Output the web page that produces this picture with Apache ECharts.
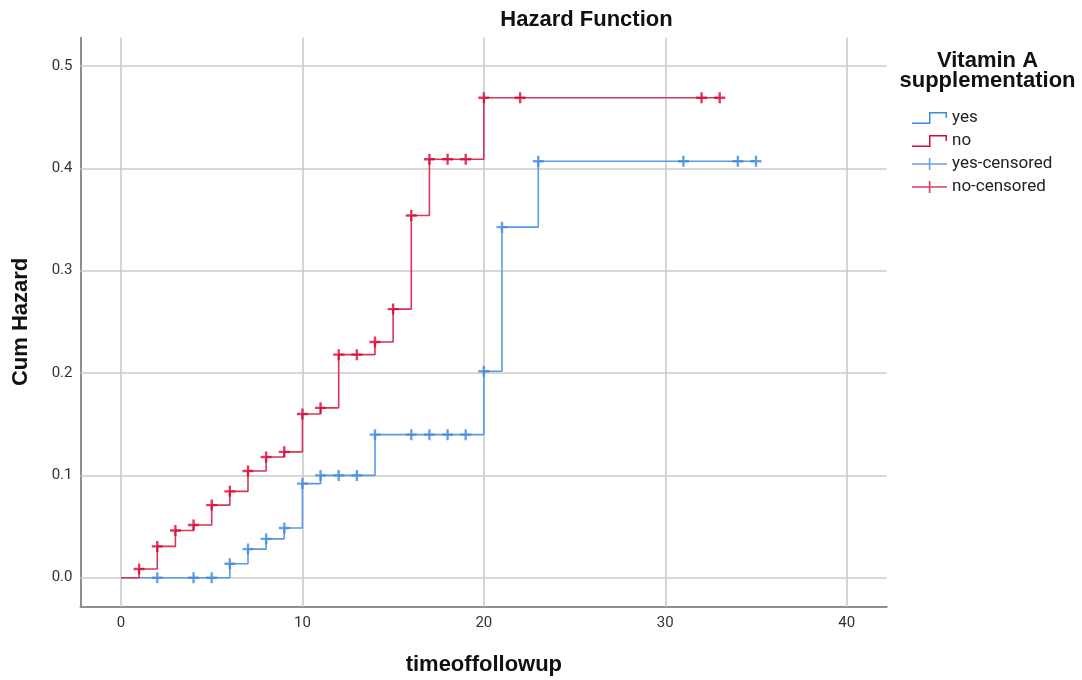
<!DOCTYPE html>
<html><head><meta charset="utf-8">
<script src="https://cdn.jsdelivr.net/npm/echarts@6/dist/echarts.min.js"></script>
<style>html,body{margin:0;padding:0;background:#fff}#c{width:1082px;height:680px}</style>
</head><body><div id="c"></div>
<script>
// ---- data ----
const X_TICKS = [0, 10, 20, 30, 40];
const Y_TICKS = [0, 0.1, 0.2, 0.3, 0.4, 0.5];
const SERIES_NAMES = ['yes', 'no', 'yes-censored', 'no-censored'];
const LEGEND_TITLE = 'Vitamin A\nsupplementation';
const YES_T = [0, 6, 7, 8, 9, 10, 11, 14, 20, 21, 23, 35];
const YES_H = [0, 0.0137, 0.028, 0.038, 0.0486, 0.092, 0.100, 0.1398, 0.2017, 0.3426, 0.407, 0.407];
const NO_T = [0, 1, 2, 3, 4, 5, 6, 7, 8, 9, 10, 11, 12, 14, 15, 16, 17, 20, 33];
const NO_H = [0, 0.0085, 0.0306, 0.0462, 0.0515, 0.071, 0.0844, 0.1043, 0.118, 0.123, 0.160, 0.166, 0.218, 0.2304, 0.2625, 0.354, 0.409, 0.469, 0.469];
const YES_CENS_T = [2, 4, 5, 6, 7, 8, 9, 10, 11, 12, 13, 14, 16, 17, 18, 19, 20, 21, 23, 31, 34, 35];
const YES_CENS_H = [0, 0, 0, 0.0137, 0.028, 0.038, 0.0486, 0.092, 0.100, 0.100, 0.100, 0.1398, 0.1398, 0.1398, 0.1398, 0.1398, 0.2017, 0.3426, 0.407, 0.407, 0.407, 0.407];
const NO_CENS_T = [1, 2, 3, 4, 5, 6, 7, 8, 9, 10, 11, 12, 13, 14, 15, 16, 17, 18, 19, 20, 22, 32, 33];
const NO_CENS_H = [0.0085, 0.0306, 0.0462, 0.0515, 0.071, 0.0844, 0.1043, 0.118, 0.123, 0.160, 0.166, 0.218, 0.218, 0.2304, 0.2625, 0.354, 0.409, 0.409, 0.409, 0.469, 0.469, 0.469, 0.469];

// ---- layout / style ----
const PLOT = { left: 80.5, top: 37.7, right: 886.7, bottom: 606.7 };
const XMIN = -2.232, XMAX = 42.205, YMIN = -0.0283, YMAX = 0.5277;
const W = PLOT.right - PLOT.left, H = PLOT.bottom - PLOT.top;
const x0 = X_TICKS[0], x1 = X_TICKS[X_TICKS.length - 1];
const y0 = Y_TICKS[0], y1 = Y_TICKS[Y_TICKS.length - 1];
const L1 = PLOT.left + (x0 - XMIN) / (XMAX - XMIN) * W;
const R1 = PLOT.left + (x1 - XMIN) / (XMAX - XMIN) * W;
const T1 = PLOT.top + (YMAX - y1) / (YMAX - YMIN) * H;
const B1 = PLOT.top + (YMAX - y0) / (YMAX - YMIN) * H;

const BLUE = '#4089e0', BLUE_LINE = '#5b9be6';
const RED = '#d20a38', RED_LINE = '#d9345a';
const TITLE_FONT = "'Liberation Sans', Arial, sans-serif";
const LABEL_FONT = "Roboto, 'Liberation Sans', sans-serif";
const CROSS = 'path://M4.3,0 H6.7 V11 H4.3 Z M0,4.3 H11 V6.7 H0 Z';
const STEP_ICON = 'path://M0,10.5 H18.5 V12 H0 Z M17,0 H18.5 V12 H17 Z M17,0 H35 V1.5 H17 Z M33.5,0 H35 V6 H33.5 Z';
const CROSS_ICON = 'path://M0,5.25 H35 V6.75 H0 Z M16.8,0 H18.4 V12 H16.8 Z';

const zip = (a, b) => a.map((v, i) => [v, b[i]]);

const chart = echarts.init(document.getElementById('c'), null, { renderer: 'canvas' });
chart.setOption({
  animation: false,
  backgroundColor: '#ffffff',
  title: [
    { text: 'Hazard Function', left: 586.5, top: 9, textAlign: 'center', padding: 0,
      textStyle: { fontFamily: TITLE_FONT, fontWeight: 'bold', fontSize: 22, lineHeight: 22, color: '#111' } },
    { text: LEGEND_TITLE, left: 987.5, top: 51, textAlign: 'center', padding: 0,
      textStyle: { fontFamily: TITLE_FONT, fontWeight: 'bold', fontSize: 22, lineHeight: 20, color: '#111' } }
  ],
  legend: {
    orient: 'vertical', left: 912, top: 108, padding: 0,
    itemWidth: 35, itemHeight: 12, itemGap: 3, selectedMode: false,
    itemStyle: { borderWidth: 0 },
    textStyle: { fontFamily: LABEL_FONT, fontSize: 17, lineHeight: 20, color: '#222' },
    data: [
      { name: SERIES_NAMES[0], icon: STEP_ICON },
      { name: SERIES_NAMES[1], icon: STEP_ICON },
      { name: SERIES_NAMES[2], icon: CROSS_ICON },
      { name: SERIES_NAMES[3], icon: CROSS_ICON }
    ]
  },
  grid: [
    { left: PLOT.left, top: PLOT.top, width: W, height: H, containLabel: false, outerBoundsMode: 'none' },
    { left: L1, top: T1, width: R1 - L1, height: B1 - T1, containLabel: false, outerBoundsMode: 'none' }
  ],
  xAxis: [
    { gridIndex: 0, type: 'value', min: XMIN, max: XMAX,
      axisLine: { show: true, onZero: false, lineStyle: { color: '#8e8e8e', width: 2 } },
      axisTick: { show: false }, axisLabel: { show: false }, splitLine: { show: false } },
    { gridIndex: 1, type: 'value', min: x0, max: x1, interval: 10, position: 'bottom',
      offset: PLOT.bottom - B1,
      axisLine: { show: false }, axisTick: { show: false }, splitLine: { show: false },
      axisLabel: { fontFamily: LABEL_FONT, fontSize: 15, color: '#333', margin: 9 },
      name: 'timeoffollowup', nameLocation: 'middle', nameGap: 47.5,
      nameTextStyle: { fontFamily: TITLE_FONT, fontWeight: 'bold', fontSize: 22, lineHeight: 22, color: '#111' } }
  ],
  yAxis: [
    { gridIndex: 0, type: 'value', min: YMIN, max: YMAX,
      axisLine: { show: true, onZero: false, lineStyle: { color: '#8e8e8e', width: 2 } },
      axisTick: { show: false }, axisLabel: { show: false }, splitLine: { show: false } },
    { gridIndex: 1, type: 'value', min: y0, max: y1, interval: 0.1, position: 'left',
      offset: L1 - PLOT.left,
      axisLabel: { fontFamily: LABEL_FONT, fontSize: 15, color: '#333', margin: 8,
        formatter: v => v.toFixed(1) },
      axisLine: { show: false }, axisTick: { show: false }, splitLine: { show: false },
      name: 'Cum Hazard', nameLocation: 'middle', nameGap: 49, nameRotate: 90,
      nameTextStyle: { fontFamily: TITLE_FONT, fontWeight: 'bold', fontSize: 22, lineHeight: 22, color: '#111' } }
  ],
  series: [
    { name: 'gridlines', type: 'line', xAxisIndex: 0, yAxisIndex: 0, data: [[x0, y0]],
      showSymbol: false, symbol: 'none', lineStyle: { opacity: 0 }, silent: true, z: 1,
      markLine: { silent: true, z: 1, symbol: ['none', 'none'], label: { show: false },
        emphasis: { disabled: true },
        lineStyle: { color: '#cbcbcb', width: 1.6, type: 'solid' },
        data: X_TICKS.map(v => ({ xAxis: v })).concat(Y_TICKS.map(v => ({ yAxis: v }))) } },
    { name: SERIES_NAMES[0], type: 'line', step: 'end', xAxisIndex: 0, yAxisIndex: 0,
      data: zip(YES_T, YES_H), showSymbol: false, symbol: 'none', color: BLUE,
      lineStyle: { color: BLUE_LINE, width: 1.6 }, z: 3 },
    { name: SERIES_NAMES[1], type: 'line', step: 'end', xAxisIndex: 0, yAxisIndex: 0,
      data: zip(NO_T, NO_H), showSymbol: false, symbol: 'none', color: RED,
      lineStyle: { color: RED_LINE, width: 1.6 }, z: 3 },
    { name: SERIES_NAMES[2], type: 'scatter', xAxisIndex: 0, yAxisIndex: 0,
      data: zip(YES_CENS_T, YES_CENS_H), symbol: CROSS, symbolSize: 11,
      itemStyle: { color: BLUE }, z: 4 },
    { name: SERIES_NAMES[3], type: 'scatter', xAxisIndex: 0, yAxisIndex: 0,
      data: zip(NO_CENS_T, NO_CENS_H), symbol: CROSS, symbolSize: 11,
      itemStyle: { color: RED }, z: 4 }
  ]
});
</script>
</body></html>
